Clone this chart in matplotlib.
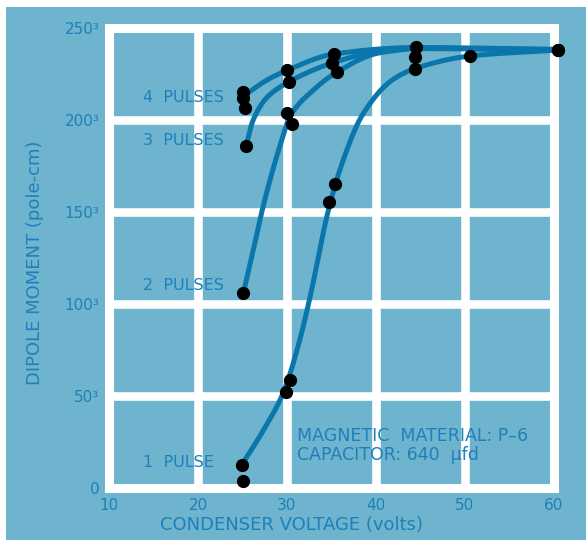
import numpy as np
import matplotlib.pyplot as plt
from matplotlib.patches import Rectangle

# measured dots (volts, dipole moment in 10^3 pole-cm)
dots_4_x = [25.0, 25.1, 25.3, 30.0, 35.3, 44.5, 60.4]
dots_4_y = [215.2, 212.0, 206.5, 227.0, 235.9, 239.7, 238.0]
dots_3_x = [25.4, 30.2, 35.1, 44.4]
dots_3_y = [185.9, 220.7, 231.0, 234.2]
dots_2_x = [25.1, 30.0, 30.6, 35.6]
dots_2_y = [106.0, 204.0, 198.0, 226.0]
dots_1_x = [24.9, 25.1, 29.9, 30.3, 34.7, 35.4, 44.4, 50.6, 60.4]
dots_1_y = [12.5, 3.8, 52.2, 58.7, 155.4, 165.2, 227.7, 234.8, 238.0]

# points
curve_4_x = [25.1, 27.75, 30.0, 35.3, 44.5, 60.4]
curve_4_y = [213.0, 221.7, 227.0, 235.9, 239.4, 238.4]
curve_3_x = [25.4, 26.2, 27.8, 30.2, 35.1, 40.0, 44.5, 60.4]
curve_3_y = [185.9, 200.0, 212.5, 220.7, 231.0, 237.0, 239.0, 238.2]
curve_2_x = [25.1, 26.2, 27.3, 29.4, 30.3, 32.9, 35.6, 40.4, 45.0, 60.4]
curve_2_y = [106.0, 129.0, 152.7, 189.0, 201.6, 216.0, 226.0, 236.5, 238.8, 238.0]
curve_1_x = [24.9, 27.3, 29.6, 31.3, 32.6, 34.7, 36.3, 38.5, 41.9, 44.4, 50.6, 60.4]
curve_1_y = [12.5, 31.0, 52.0, 78.0, 104.0, 152.0, 178.0, 203.0, 222.0, 228.0, 234.8, 238.0]

labels = ["4  PULSES", "3  PULSES", "2  PULSES", "1  PULSE"]
label_y = [212.5, 188.6, 110.3, 14.1]

x_ticks = [10, 20, 30, 40, 50, 60]
y_ticks = [0, 50, 100, 150, 200, 250]
y_tick_labels = ["0", "50³", "100³", "150³", "200³", "250³"]

bg = "#6eb4ce"
txt = "#1f80b9"
line_col = "#0a76ab"


def pchip(x, y, xs):
    x = np.asarray(x, float)
    y = np.asarray(y, float)
    h = np.diff(x)
    d = np.diff(y) / h
    m = np.zeros_like(y)
    for k in range(1, len(x) - 1):
        if d[k - 1] * d[k] > 0:
            w1 = 2 * h[k] + h[k - 1]
            w2 = h[k] + 2 * h[k - 1]
            m[k] = (w1 + w2) / (w1 / d[k - 1] + w2 / d[k])
    m[0] = d[0]
    m[-1] = d[-1]
    idx = np.clip(np.searchsorted(x, xs) - 1, 0, len(x) - 2)
    t = (xs - x[idx]) / h[idx]
    h00 = 2 * t**3 - 3 * t**2 + 1
    h10 = t**3 - 2 * t**2 + t
    h01 = -2 * t**3 + 3 * t**2
    h11 = t**3 - t**2
    return h00 * y[idx] + h10 * h[idx] * m[idx] + h01 * y[idx + 1] + h11 * h[idx] * m[idx + 1]


fig = plt.figure(figsize=(5.86, 5.40), dpi=100, facecolor="white")
fig.patches.append(Rectangle((6 / 586, 0), 1, 1 - 7 / 540, transform=fig.transFigure,
                             facecolor=bg, edgecolor="none", zorder=-5))
ax = fig.add_axes([109 / 586, 1 - 488 / 540, 445 / 586, 460 / 540])
ax.set_facecolor(bg)
ax.set_xlim(10, 60)
ax.set_ylim(0, 250)

ax.set_xticks(x_ticks)
ax.set_yticks(y_ticks)
ax.set_xticklabels([str(v) for v in x_ticks])
ax.set_yticklabels(y_tick_labels)
ax.grid(True, color="white", linewidth=6.2)
ax.set_axisbelow(True)
for s in ax.spines.values():
    s.set_color("white")
    s.set_linewidth(6.5)
ax.tick_params(length=0, colors=txt, labelsize=11)
ax.tick_params(axis="x", pad=7)
ax.tick_params(axis="y", pad=7)

curves = [(curve_4_x, curve_4_y), (curve_3_x, curve_3_y),
          (curve_2_x, curve_2_y), (curve_1_x, curve_1_y)]
for cx, cy in curves:
    xs = np.linspace(cx[0], cx[-1], 500)
    ax.plot(xs, pchip(cx, cy, xs), color=line_col, linewidth=3.6,
            solid_capstyle="round", zorder=3, clip_on=False)

for dx, dy in [(dots_4_x, dots_4_y), (dots_3_x, dots_3_y),
               (dots_2_x, dots_2_y), (dots_1_x, dots_1_y)]:
    ax.plot(dx, dy, "o", color="black", markersize=8.5, zorder=4, clip_on=False)

for lab, ly in zip(labels, label_y):
    ax.text(13.8, ly, lab, color=txt, fontsize=11.5, va="center", ha="left", zorder=2)

ax.text(31.1, 28.3, "MAGNETIC  MATERIAL: P–6", color=txt, fontsize=12.5, va="center", ha="left")
ax.text(31.1, 17.9, "CAPACITOR: 640  μfd", color=txt, fontsize=12.5, va="center", ha="left")

ax.set_xlabel("CONDENSER VOLTAGE (volts)", color=txt, fontsize=13)
ax.set_ylabel("DIPOLE MOMENT (pole-cm)", color=txt, fontsize=13)
ax.xaxis.set_label_coords(0.41, -0.06)
ax.yaxis.set_label_coords(-0.145, 0.49)

fig.savefig("out.png", dpi=100, facecolor=fig.get_facecolor())
